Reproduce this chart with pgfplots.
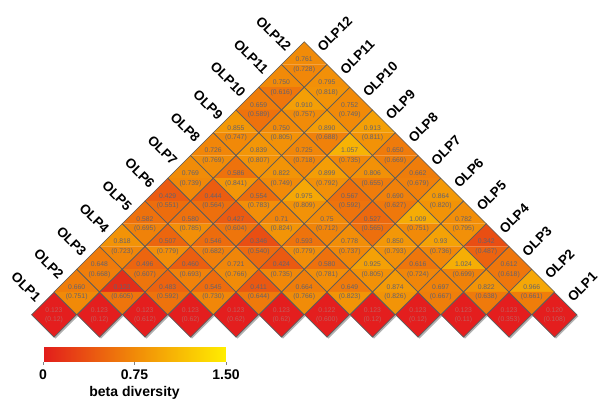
\documentclass[border=0pt]{standalone}
\usepackage{pgfplots}
\pgfplotsset{compat=1.18}
\usepackage{pgfplotstable}
\usepackage{fontspec}
\setmainfont{Liberation Sans}

\definecolor{celltext}{RGB}{98,98,112}
\definecolor{cellline}{RGB}{92,92,92}
\definecolor{diagred}{RGB}{228,30,30}
\definecolor{diagtext}{RGB}{196,92,92}

% upper and lower halves of a diamond cell (half diagonal 22.75pt)
\pgfdeclareplotmark{uphalf}{%
  \pgfpathmoveto{\pgfqpoint{-22.9pt}{0pt}}%
  \pgfpathlineto{\pgfqpoint{0pt}{22.9pt}}%
  \pgfpathlineto{\pgfqpoint{22.9pt}{0pt}}%
  \pgfpathclose\pgfusepathqfill}
\pgfdeclareplotmark{downhalf}{%
  \pgfpathmoveto{\pgfqpoint{-22.9pt}{0pt}}%
  \pgfpathlineto{\pgfqpoint{0pt}{-22.9pt}}%
  \pgfpathlineto{\pgfqpoint{22.9pt}{0pt}}%
  \pgfpathclose\pgfusepathqfill}
\pgfdeclareplotmark{cellframe}{%
  \pgfpathmoveto{\pgfqpoint{-22.75pt}{0pt}}%
  \pgfpathlineto{\pgfqpoint{0pt}{22.75pt}}%
  \pgfpathlineto{\pgfqpoint{22.75pt}{0pt}}%
  \pgfpathlineto{\pgfqpoint{0pt}{-22.75pt}}%
  \pgfpathclose\pgfusepathqstroke}
\pgfdeclareplotmark{diagcell}{%
  \pgfpathmoveto{\pgfqpoint{-22.4pt}{0pt}}%
  \pgfpathlineto{\pgfqpoint{0pt}{22.4pt}}%
  \pgfpathlineto{\pgfqpoint{22.4pt}{0pt}}%
  \pgfpathlineto{\pgfqpoint{0pt}{-22.4pt}}%
  \pgfpathclose\pgfusepathqfillstroke}
\pgfdeclareplotmark{diagshadow}{%
  \pgfpathmoveto{\pgfqpoint{-20.9pt}{-1.5pt}}%
  \pgfpathlineto{\pgfqpoint{1.5pt}{20.9pt}}%
  \pgfpathlineto{\pgfqpoint{23.9pt}{-1.5pt}}%
  \pgfpathlineto{\pgfqpoint{1.5pt}{-23.9pt}}%
  \pgfpathclose\pgfusepathqfill}

% pairwise beta diversity: row r (2 = neighbours), column c, upper value, value in brackets
\pgfplotstableread{
r c top bot
2 1 0.660 0.751
2 2 0.123 0.605
2 3 0.483 0.592
2 4 0.545 0.730
2 5 0.411 0.644
2 6 0.664 0.766
2 7 0.649 0.823
2 8 0.874 0.826
2 9 0.697 0.667
2 10 0.822 0.638
2 11 0.966 0.661
3 1 0.648 0.668
3 2 0.496 0.607
3 3 0.460 0.693
3 4 0.721 0.766
3 5 0.424 0.735
3 6 0.580 0.781
3 7 0.925 0.805
3 8 0.616 0.724
3 9 1.024 0.699
3 10 0.612 0.618
4 1 0.818 0.723
4 2 0.507 0.779
4 3 0.546 0.682
4 4 0.346 0.540
4 5 0.593 0.779
4 6 0.778 0.737
4 7 0.850 0.793
4 8 0.93 0.736
4 9 0.342 0.487
5 1 0.582 0.695
5 2 0.580 0.785
5 3 0.427 0.604
5 4 0.71 0.824
5 5 0.75 0.712
5 6 0.527 0.565
5 7 1.009 0.751
5 8 0.782 0.795
6 1 0.429 0.551
6 2 0.444 0.564
6 3 0.554 0.783
6 4 0.975 0.809
6 5 0.567 0.592
6 6 0.690 0.627
6 7 0.864 0.820
7 1 0.769 0.739
7 2 0.586 0.841
7 3 0.822 0.749
7 4 0.899 0.792
7 5 0.806 0.655
7 6 0.662 0.679
8 1 0.726 0.769
8 2 0.839 0.807
8 3 0.725 0.718
8 4 1.057 0.735
8 5 0.650 0.669
9 1 0.855 0.747
9 2 0.750 0.805
9 3 0.890 0.688
9 4 0.913 0.811
10 1 0.659 0.589
10 2 0.910 0.757
10 3 0.752 0.749
11 1 0.750 0.616
11 2 0.795 0.818
12 1 0.761 0.728
}\cells

% self comparisons along the base
\pgfplotstableread{
c top bot
1 0.123 0.12
2 0.123 0.12
3 0.123 0.612
4 0.123 0.62
5 0.123 0.62
6 0.123 0.62
7 0.122 0.600
8 0.123 0.12
9 0.123 0.12
10 0.123 0.11
11 0.123 0.353
12 0.120 0.108
}\diag

\begin{document}
\begin{tikzpicture}
\begin{axis}[
  at={(0,0)}, anchor=south west,
  scale only axis, width=604pt, height=401pt,
  xmin=0, xmax=604, ymin=0, ymax=401,
  hide axis, clip=false,
  colormap={beta}{rgb255=(226,28,28) rgb255=(241,138,8) rgb255=(255,238,0)},
  point meta min=0, point meta max=1.5,
  colorbar horizontal,
  colorbar style={
    at={(0.0712,0.1372)}, anchor=north west,
    scale only axis, width=183pt, height=16pt,
    xtick={0,0.75,1.5}, xticklabels={0,0.75,1.50},
    xtick pos=lower, xtick align=outside, major tick length=3pt,
    tick style={draw=gray, line width=0.6pt},
    axis line style={draw=none},
    xticklabel style={font=\bfseries\fontsize{14}{14}\selectfont, text=black, inner sep=1pt, yshift=-4pt},
    xlabel={beta diversity},
    xlabel style={font=\bfseries\fontsize{14}{14}\selectfont, inner sep=1pt, yshift=-4pt},
  },
  celltxt/.style={every node near coord/.append style={anchor=center,
      font=\fontsize{6.8}{7}\selectfont, text=celltext, inner sep=0pt}},
  diagtxt/.style={every node near coord/.append style={anchor=center,
      font=\fontsize{6.8}{7}\selectfont, text=diagtext, inner sep=0pt}},
]
% upper halves, coloured by the first value
\addplot[scatter, only marks, mark=uphalf,
  point meta=\thisrow{top},
  scatter/use mapped color={color=mapped color},
] table[x expr={54+(\thisrow{r}-1)*22.75+(\thisrow{c}-1)*45.5},
        y expr={86.25+(\thisrow{r}-1)*22.75}] {\cells};
% lower halves, coloured by the bracketed value
\addplot[scatter, only marks, mark=downhalf,
  point meta=\thisrow{bot},
  scatter/use mapped color={color=mapped color},
] table[x expr={54+(\thisrow{r}-1)*22.75+(\thisrow{c}-1)*45.5},
        y expr={86.25+(\thisrow{r}-1)*22.75}] {\cells};
% cell outlines
\addplot[cellline, only marks, mark=cellframe, line width=0.55pt]
  table[x expr={54+(\thisrow{r}-1)*22.75+(\thisrow{c}-1)*45.5},
        y expr={86.25+(\thisrow{r}-1)*22.75}] {\cells};
% value labels
\addplot[only marks, mark=none, point meta=explicit symbolic,
  nodes near coords, celltxt,
  every node near coord/.append style={yshift=5pt},
] table[x expr={54+(\thisrow{r}-1)*22.75+(\thisrow{c}-1)*45.5},
        y expr={86.25+(\thisrow{r}-1)*22.75}, meta=top] {\cells};
\addplot[only marks, mark=none, point meta=explicit symbolic,
  nodes near coords={(\pgfplotspointmeta)}, celltxt,
  every node near coord/.append style={yshift=-5pt},
] table[x expr={54+(\thisrow{r}-1)*22.75+(\thisrow{c}-1)*45.5},
        y expr={86.25+(\thisrow{r}-1)*22.75}, meta=bot] {\cells};

% diagonal cells with drop shadow
\addplot[black!55, opacity=0.55, only marks, mark=diagshadow]
  table[x expr={54+(\thisrow{c}-1)*45.5}, y expr=86.25] {\diag};
\addplot[only marks, mark=diagcell, line width=0.6pt,
  mark options={fill=diagred, draw=cellline}]
  table[x expr={54+(\thisrow{c}-1)*45.5}, y expr=86.25] {\diag};
\addplot[only marks, mark=none, point meta=explicit symbolic,
  nodes near coords, diagtxt,
  every node near coord/.append style={yshift=5pt},
] table[x expr={54+(\thisrow{c}-1)*45.5}, y expr=86.25, meta=top] {\diag};
\addplot[only marks, mark=none, point meta=explicit symbolic,
  nodes near coords={(\pgfplotspointmeta)}, diagtxt,
  every node near coord/.append style={yshift=-5pt},
] table[x expr={54+(\thisrow{c}-1)*45.5}, y expr=86.25, meta=bot] {\diag};

% sample names along both sides
\tikzset{lside/.style={rotate=-45, anchor=east, inner sep=0pt, font=\bfseries\fontsize{13.5}{13.5}\selectfont},
         rside/.style={rotate=45, anchor=west, inner sep=0pt, font=\bfseries\fontsize{13.5}{13.5}\selectfont}}
\node[lside] at (axis cs:38.625,101.625) {OLP1};
\node[lside] at (axis cs:61.375,124.375) {OLP2};
\node[lside] at (axis cs:84.125,147.125) {OLP3};
\node[lside] at (axis cs:106.875,169.875) {OLP4};
\node[lside] at (axis cs:129.625,192.625) {OLP5};
\node[lside] at (axis cs:152.375,215.375) {OLP6};
\node[lside] at (axis cs:175.125,238.125) {OLP7};
\node[lside] at (axis cs:197.875,260.875) {OLP8};
\node[lside] at (axis cs:220.625,283.625) {OLP9};
\node[lside] at (axis cs:243.375,306.375) {OLP10};
\node[lside] at (axis cs:266.125,329.125) {OLP11};
\node[lside] at (axis cs:288.875,351.875) {OLP12};
\node[rside] at (axis cs:569.875,101.625) {OLP1};
\node[rside] at (axis cs:547.125,124.375) {OLP2};
\node[rside] at (axis cs:524.375,147.125) {OLP3};
\node[rside] at (axis cs:501.625,169.875) {OLP4};
\node[rside] at (axis cs:478.875,192.625) {OLP5};
\node[rside] at (axis cs:456.125,215.375) {OLP6};
\node[rside] at (axis cs:433.375,238.125) {OLP7};
\node[rside] at (axis cs:410.625,260.875) {OLP8};
\node[rside] at (axis cs:387.875,283.625) {OLP9};
\node[rside] at (axis cs:365.125,306.375) {OLP10};
\node[rside] at (axis cs:342.375,329.125) {OLP11};
\node[rside] at (axis cs:319.625,351.875) {OLP12};
\end{axis}
\pgfresetboundingbox
\path[use as bounding box] (0,0) rectangle (604pt,401pt);
\end{tikzpicture}
\end{document}
